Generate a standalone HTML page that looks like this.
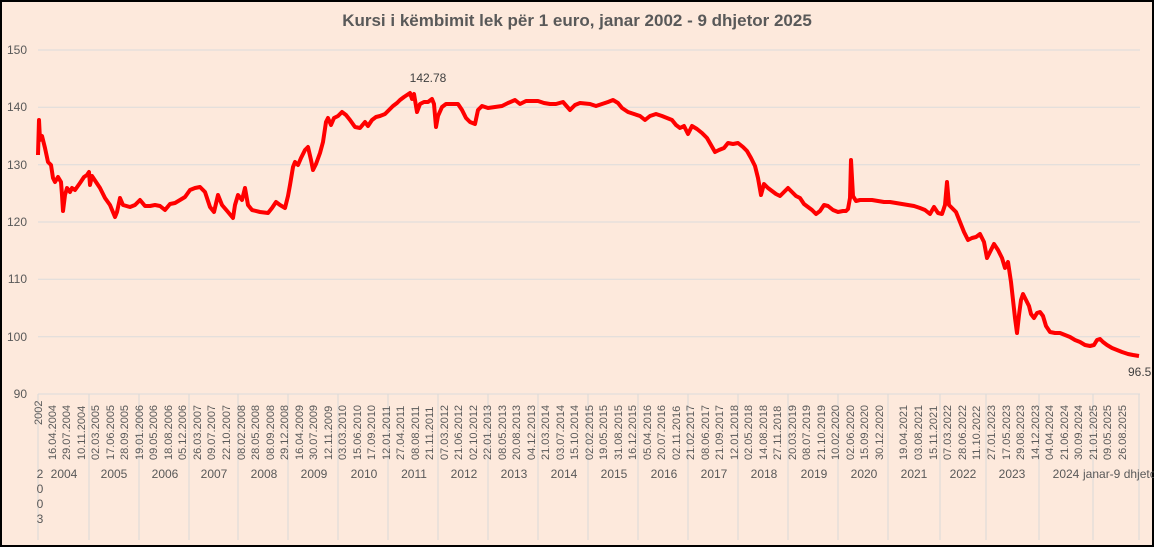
<!DOCTYPE html>
<html><head><meta charset="utf-8"><style>
html,body{margin:0;padding:0;background:#fde9dc;}
svg{display:block;font-family:"Liberation Sans",Calibri,sans-serif;}
</style></head><body>
<svg width="1154" height="547" viewBox="0 0 1154 547" xmlns="http://www.w3.org/2000/svg">
<rect x="0" y="0" width="1154" height="547" fill="#fde9dc"/>
<rect x="1" y="1" width="1152" height="545" fill="none" stroke="#000" stroke-width="2"/>
<text x="577" y="26" text-anchor="middle" font-size="17" font-weight="bold" fill="#595959">Kursi i këmbimit lek për 1 euro, janar 2002 - 9 dhjetor 2025</text>
<g stroke="#dcdcdc" stroke-width="1">
<line x1="38" x2="1140" y1="50" y2="50"/><line x1="38" x2="1140" y1="107.3" y2="107.3"/>
<line x1="38" x2="1140" y1="164.7" y2="164.7"/><line x1="38" x2="1140" y1="222" y2="222"/>
<line x1="38" x2="1140" y1="279.3" y2="279.3"/><line x1="38" x2="1140" y1="336.7" y2="336.7"/>
<line x1="38" x2="1140" y1="394" y2="394"/>
</g>
<g font-size="12" fill="#595959" text-anchor="end">
<text x="27" y="54">150</text><text x="27" y="111">140</text><text x="27" y="169">130</text>
<text x="27" y="226">120</text><text x="27" y="283">110</text><text x="27" y="341">100</text><text x="27" y="398">90</text>
</g>
<g stroke="#d9d9d9">
<line x1="38" x2="38" y1="394" y2="540"/><line x1="89" x2="89" y1="394" y2="540"/><line x1="139" x2="139" y1="394" y2="540"/><line x1="189" x2="189" y1="394" y2="540"/><line x1="238" x2="238" y1="394" y2="540"/><line x1="288" x2="288" y1="394" y2="540"/><line x1="338" x2="338" y1="394" y2="540"/><line x1="388" x2="388" y1="394" y2="540"/><line x1="438" x2="438" y1="394" y2="540"/><line x1="488" x2="488" y1="394" y2="540"/><line x1="538" x2="538" y1="394" y2="540"/><line x1="588" x2="588" y1="394" y2="540"/><line x1="638" x2="638" y1="394" y2="540"/><line x1="688" x2="688" y1="394" y2="540"/><line x1="738" x2="738" y1="394" y2="540"/><line x1="788" x2="788" y1="394" y2="540"/><line x1="838" x2="838" y1="394" y2="540"/><line x1="888" x2="888" y1="394" y2="540"/><line x1="940" x2="940" y1="394" y2="540"/><line x1="986" x2="986" y1="394" y2="540"/><line x1="1039" x2="1039" y1="394" y2="540"/><line x1="1093" x2="1093" y1="394" y2="540"/><line x1="1139" x2="1139" y1="394" y2="540"/>
</g>
<g font-size="12" fill="#595959" text-anchor="middle">
<text x="64" y="478">2004</text><text x="114" y="478">2005</text><text x="165" y="478">2006</text><text x="214" y="478">2007</text><text x="264" y="478">2008</text><text x="314" y="478">2009</text><text x="364" y="478">2010</text><text x="414" y="478">2011</text><text x="464" y="478">2012</text><text x="514" y="478">2013</text><text x="564" y="478">2014</text><text x="614" y="478">2015</text><text x="664" y="478">2016</text><text x="714" y="478">2017</text><text x="764" y="478">2018</text><text x="814" y="478">2019</text><text x="864" y="478">2020</text><text x="914" y="478">2021</text><text x="963" y="478">2022</text><text x="1012" y="478">2023</text><text x="1066" y="478">2024</text>
<text x="40" y="478">2</text><text x="40" y="493">0</text><text x="40" y="508">0</text><text x="40" y="523">3</text>
</g>
<text x="1083" y="478" font-size="12" fill="#595959">janar-9 dhjetor 2</text>
<g font-size="11" fill="#595959">
<text transform="translate(42,425) rotate(-90)">2002</text>
<text transform="translate(56,460) rotate(-90)">16.04.2004</text>
<text transform="translate(70,460) rotate(-90)">29.07.2004</text>
<text transform="translate(85,460) rotate(-90)">10.11.2004</text>
<text transform="translate(99,460) rotate(-90)">02.03.2005</text>
<text transform="translate(114,460) rotate(-90)">17.06.2005</text>
<text transform="translate(128,460) rotate(-90)">28.09.2005</text>
<text transform="translate(143,460) rotate(-90)">19.01.2006</text>
<text transform="translate(157,460) rotate(-90)">09.05.2006</text>
<text transform="translate(172,460) rotate(-90)">18.08.2006</text>
<text transform="translate(186,460) rotate(-90)">05.12.2006</text>
<text transform="translate(201,460) rotate(-90)">26.03.2007</text>
<text transform="translate(215,460) rotate(-90)">09.07.2007</text>
<text transform="translate(230,460) rotate(-90)">22.10.2007</text>
<text transform="translate(245,460) rotate(-90)">08.02.2008</text>
<text transform="translate(259,460) rotate(-90)">28.05.2008</text>
<text transform="translate(274,460) rotate(-90)">08.09.2008</text>
<text transform="translate(288,460) rotate(-90)">29.12.2008</text>
<text transform="translate(303,460) rotate(-90)">16.04.2009</text>
<text transform="translate(317,460) rotate(-90)">30.07.2009</text>
<text transform="translate(332,460) rotate(-90)">12.11.2009</text>
<text transform="translate(346,460) rotate(-90)">03.03.2010</text>
<text transform="translate(361,460) rotate(-90)">15.06.2010</text>
<text transform="translate(375,460) rotate(-90)">17.09.2010</text>
<text transform="translate(390,460) rotate(-90)">12.01.2011</text>
<text transform="translate(404,460) rotate(-90)">27.04.2011</text>
<text transform="translate(419,460) rotate(-90)">08.08.2011</text>
<text transform="translate(433,460) rotate(-90)">21.11.2011</text>
<text transform="translate(448,460) rotate(-90)">07.03.2012</text>
<text transform="translate(462,460) rotate(-90)">21.06.2012</text>
<text transform="translate(477,460) rotate(-90)">02.10.2012</text>
<text transform="translate(491,460) rotate(-90)">22.01.2013</text>
<text transform="translate(506,460) rotate(-90)">08.05.2013</text>
<text transform="translate(520,460) rotate(-90)">20.08.2013</text>
<text transform="translate(535,460) rotate(-90)">04.12.2013</text>
<text transform="translate(549,460) rotate(-90)">21.03.2014</text>
<text transform="translate(564,460) rotate(-90)">03.07.2014</text>
<text transform="translate(578,460) rotate(-90)">15.10.2014</text>
<text transform="translate(593,460) rotate(-90)">02.02.2015</text>
<text transform="translate(607,460) rotate(-90)">19.05.2015</text>
<text transform="translate(622,460) rotate(-90)">31.08.2015</text>
<text transform="translate(636,460) rotate(-90)">16.12.2015</text>
<text transform="translate(651,460) rotate(-90)">05.04.2016</text>
<text transform="translate(665,460) rotate(-90)">20.07.2016</text>
<text transform="translate(680,460) rotate(-90)">02.11.2016</text>
<text transform="translate(694,460) rotate(-90)">21.02.2017</text>
<text transform="translate(709,460) rotate(-90)">08.06.2017</text>
<text transform="translate(723,460) rotate(-90)">21.09.2017</text>
<text transform="translate(738,460) rotate(-90)">12.01.2018</text>
<text transform="translate(752,460) rotate(-90)">02.05.2018</text>
<text transform="translate(767,460) rotate(-90)">14.08.2018</text>
<text transform="translate(781,460) rotate(-90)">27.11.2018</text>
<text transform="translate(796,460) rotate(-90)">20.03.2019</text>
<text transform="translate(810,460) rotate(-90)">08.07.2019</text>
<text transform="translate(825,460) rotate(-90)">21.10.2019</text>
<text transform="translate(839,460) rotate(-90)">10.02.2020</text>
<text transform="translate(854,460) rotate(-90)">02.06.2020</text>
<text transform="translate(868,460) rotate(-90)">15.09.2020</text>
<text transform="translate(883,460) rotate(-90)">30.12.2020</text>
<text transform="translate(907,460) rotate(-90)">19.04.2021</text>
<text transform="translate(922,460) rotate(-90)">03.08.2021</text>
<text transform="translate(937,460) rotate(-90)">15.11.2021</text>
<text transform="translate(951,460) rotate(-90)">07.03.2022</text>
<text transform="translate(966,460) rotate(-90)">28.06.2022</text>
<text transform="translate(980,460) rotate(-90)">11.10.2022</text>
<text transform="translate(995,460) rotate(-90)">27.01.2023</text>
<text transform="translate(1010,460) rotate(-90)">17.05.2023</text>
<text transform="translate(1024,460) rotate(-90)">29.08.2023</text>
<text transform="translate(1039,460) rotate(-90)">14.12.2023</text>
<text transform="translate(1053,460) rotate(-90)">04.04.2024</text>
<text transform="translate(1068,460) rotate(-90)">21.06.2024</text>
<text transform="translate(1082,460) rotate(-90)">30.09.2024</text>
<text transform="translate(1097,460) rotate(-90)">21.01.2025</text>
<text transform="translate(1111,460) rotate(-90)">09.05.2025</text>
<text transform="translate(1126,460) rotate(-90)">26.08.2025</text>
</g>
<polyline fill="none" stroke="#ff0000" stroke-width="4" stroke-linejoin="round" points="38,155 39,120 40,140 42,136 45,148 48,162 51,165 53,178 55,182 58,177 61,182 62,195 63,211 65,195 67,188 70,192 72,188 75,190 80,183 84,177 87,175 89,172 90,185 92,176 96,182 100,188 105,198 110,205 115,217 117,212 120,198 123,205 130,207 135,205 140,200 145,206 150,206 155,205 160,206 165,210 170,204 175,203 180,200 185,197 190,190 195,188 200,187 205,192 210,207 214,212 218,195 222,205 228,212 233,218 235,205 238,195 242,200 245,188 248,205 252,210 260,212 268,213 272,208 276,202 280,205 285,208 288,196 290,185 293,167 295,162 298,165 301,158 305,150 308,147 311,160 313,170 316,164 320,153 323,142 326,122 328,118 331,125 334,118 338,116 342,112 346,115 350,120 355,127 360,128 365,122 368,126 372,120 376,117 380,116 385,114 389,110 393,106 397,103 400,100 404,97 407,95 410,93 412,99 414,94 417,112 420,104 424,102 428,102 432,99 434,104 436,127 438,116 442,107 446,104 452,104 458,104 462,110 466,118 470,122 475,124 478,110 482,106 488,108 495,107 502,106 508,103 515,100 520,104 526,101 532,101 538,101 544,103 550,104 556,104 563,102 570,110 575,105 580,103 590,104 596,106 602,104 608,102 613,100 618,103 622,108 628,112 634,114 640,116 645,120 650,116 656,114 662,116 667,118 672,120 676,125 680,128 684,126 688,134 692,126 697,129 702,133 707,138 711,145 715,152 719,150 724,148 728,143 733,144 738,143 743,147 747,151 751,158 755,166 758,178 761,195 764,184 768,188 772,191 776,194 780,196 784,192 788,188 792,192 796,196 800,198 804,204 808,207 812,210 816,214 820,211 824,205 828,206 833,210 838,212 843,211 846,211 848,209 850,198 851,160 853,196 856,201 860,200 866,200 872,200 878,201 884,202 890,202 896,203 902,204 908,205 914,206 920,208 925,210 930,214 934,207 938,213 942,214 945,205 947,182 949,205 952,208 956,212 960,222 964,232 968,240 972,238 976,237 980,234 984,242 987,258 990,252 994,244 998,250 1002,258 1005,268 1008,262 1011,282 1013,300 1015,318 1017,333 1019,315 1021,300 1023,294 1026,300 1029,306 1031,314 1034,318 1037,313 1040,312 1043,316 1046,326 1050,332 1055,333 1060,333 1065,335 1070,337 1075,340 1080,342 1085,345 1090,346 1094,345 1097,340 1100,339 1103,342 1107,345 1112,348 1117,350 1122,352 1128,354 1133,355 1139,356"/>
<text x="428" y="82" text-anchor="middle" font-size="12" fill="#404040">142.78</text>
<text x="1128" y="376" font-size="12" fill="#404040">96.5</text>
</svg>
</body></html>
